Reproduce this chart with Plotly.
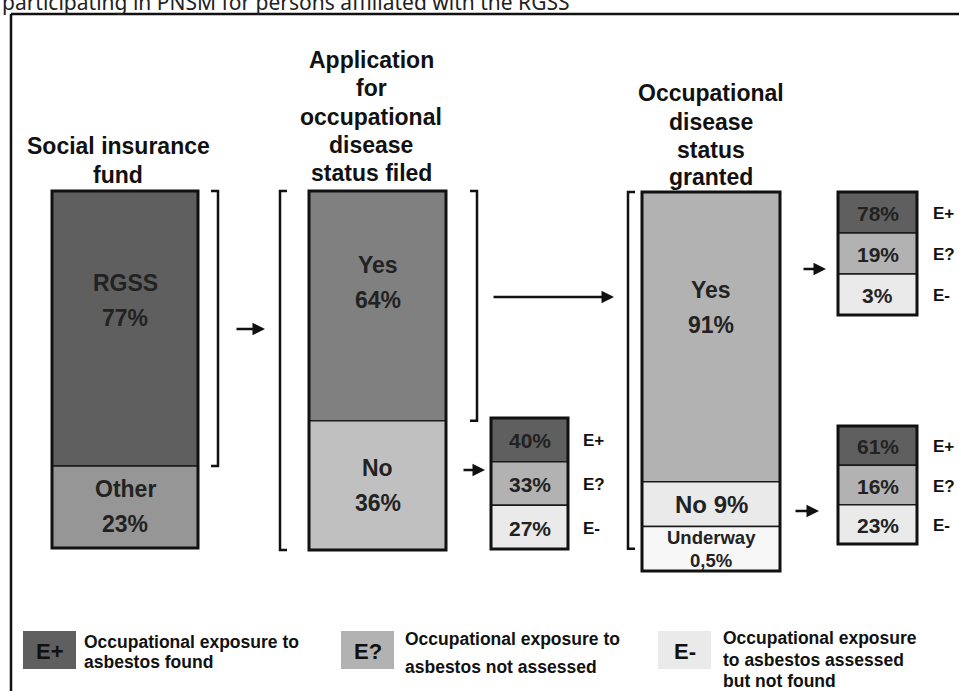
import plotly.graph_objects as go

# ---------------- data ----------------
page_caption = "participating in PNSM for persons affiliated with the RGSS"

column_titles = [
    ["Social insurance", "fund"],
    ["Application", "for", "occupational", "disease", "status filed"],
    ["Occupational", "disease", "status", "granted"],
]

fund_labels = ["RGSS", "Other"]
fund_values = [77, 23]

application_labels = ["Yes", "No"]
application_values = [64, 36]

granted_labels = ["Yes", "No", "Underway"]
granted_values = [91, 9, 0.5]

exposure_codes = ["E+", "E?", "E-"]
exposure_no_application = [40, 33, 27]
exposure_granted_yes = [78, 19, 3]
exposure_granted_no = [61, 16, 23]

exposure_descriptions = [
    ["Occupational exposure to", "asbestos found"],
    ["Occupational exposure to", "asbestos not assessed"],
    ["Occupational exposure", "to asbestos assessed", "but not found"],
]

# ---------------- style / layout ----------------
W, H = 959, 691
FONT = "Liberation Sans, Arial, sans-serif"
INK = "#111111"
LABEL_INK = "#222222"
EXPO_COLORS = ["#5f5f5f", "#b2b2b2", "#eaeaea"]
MIN_SHARE = 14  # minimum displayed share so that small segments stay legible


def pct(v):
    return (f"{v:g}").replace(".", ",") + "%"


columns = [
    dict(labels=fund_labels, values=fund_values, x0=52, x1=198, top=191, bottom=548,
         colors=["#5f5f5f", "#969696"], one_line=[False, False], sizes=[23, 23],
         gaps=[35, 35], title_x=118, title_y=[146, 175]),
    dict(labels=application_labels, values=application_values, x0=309, x1=446, top=191, bottom=550,
         colors=["#808080", "#c0c0c0"], one_line=[False, False], sizes=[23, 23],
         gaps=[35, 35], title_x=371, title_y=[60, 88, 117, 145, 173]),
    dict(labels=granted_labels, values=granted_values, x0=642, x1=780, top=192, bottom=571,
         colors=["#b2b2b2", "#eaeaea", "#f7f7f7"], one_line=[False, True, False],
         sizes=[23, 24, 18.5], gaps=[35, 0, 23], title_x=711, title_y=[93, 122, 150, 177]),
]

minis = [
    dict(values=exposure_no_application, x0=491, x1=568, top=418, bottom=549, code_x=581),
    dict(values=exposure_granted_yes, x0=838, x1=917, top=192, bottom=315, code_x=931),
    dict(values=exposure_granted_no, x0=838, x1=917, top=426, bottom=544, code_x=931),
]

fig = go.Figure()
annotations = []
shapes = []


def text(x, y, s, size, color=INK, xanchor="center", family=FONT, bold=True):
    annotations.append(dict(
        x=x, y=y, xref="x", yref="y", text=(f"<b>{s}</b>" if bold else s), showarrow=False,
        xanchor=xanchor, yanchor="middle",
        font=dict(family=family, size=size, color=color)))


# ---- main stacked columns ----
seg_bounds = []
for ci, col in enumerate(columns):
    disp = [max(v, MIN_SHARE) for v in col["values"]]
    tot = sum(disp)
    span = col["bottom"] - col["top"]
    heights = [d / tot * span for d in disp]
    bases = []
    acc = col["top"]
    for h in heights:
        bases.append(acc)
        acc += h
    seg_bounds.append(list(zip(bases, heights)))
    cx = (col["x0"] + col["x1"]) / 2
    w = col["x1"] - col["x0"]
    fig.add_trace(go.Bar(
        x=[cx] * len(heights), y=heights, base=bases, width=[w] * len(heights),
        marker=dict(color=col["colors"], line=dict(color="#1a1a1a", width=1.5)),
        hoverinfo="skip", showlegend=False))
    shapes.append(dict(type="rect", xref="x", yref="y", x0=col["x0"], x1=col["x1"],
                       y0=col["top"], y1=col["bottom"], line=dict(color="#111", width=3)))
    for lab, v, b, h, one, size, gap in zip(col["labels"], col["values"], bases, heights,
                                            col["one_line"], col["sizes"], col["gaps"]):
        yc = b + (0.4 * h if h > 150 else h / 2)
        if one:
            text(cx, yc, f"{lab} {pct(v)}", size, LABEL_INK)
        else:
            text(cx, yc - gap / 2, lab, size, LABEL_INK)
            text(cx, yc + gap / 2, pct(v), size, LABEL_INK)
    for line, ty in zip(column_titles[ci], col["title_y"]):
        text(col["title_x"], ty, line, 23, INK)

# ---- exposure mini tables ----
for m in minis:
    n = len(m["values"])
    rh = (m["bottom"] - m["top"]) / n
    bases = [m["top"] + i * rh for i in range(n)]
    cx = (m["x0"] + m["x1"]) / 2
    w = m["x1"] - m["x0"]
    fig.add_trace(go.Bar(
        x=[cx] * n, y=[rh] * n, base=bases, width=[w] * n,
        marker=dict(color=EXPO_COLORS, line=dict(color="#1a1a1a", width=1.5)),
        hoverinfo="skip", showlegend=False))
    shapes.append(dict(type="rect", xref="x", yref="y", x0=m["x0"], x1=m["x1"],
                       y0=m["top"], y1=m["bottom"], line=dict(color="#111", width=3)))
    for v, b, code in zip(m["values"], bases, exposure_codes):
        text(cx, b + rh / 2 + 1, pct(v), 21, LABEL_INK)
        text(m["code_x"], b + rh / 2 + 1, code, 17, INK, xanchor="left")


# ---- brackets ----
def bracket(x, y0, y1, side, serif=7):
    d = -serif if side == "right" else serif
    fig.add_trace(go.Scatter(
        x=[x + d, x, x, x + d], y=[y0, y0, y1, y1], mode="lines",
        line=dict(color="#111", width=2.5), hoverinfo="skip", showlegend=False))


b1 = seg_bounds[0][0]
bracket(218, b1[0], b1[0] + b1[1], "right")
bracket(280, columns[1]["top"], columns[1]["bottom"], "left")
b2 = seg_bounds[1][0]
bracket(477, b2[0], b2[0] + b2[1], "right")
b3u = seg_bounds[2][2]
bracket(628, columns[2]["top"], b3u[0] + b3u[1] / 2, "left")


# ---- arrows ----
def arrow(x0, x1, y):
    annotations.append(dict(x=x1, y=y, ax=x0, ay=y, xref="x", yref="y", axref="x", ayref="y",
                            text="", showarrow=True, arrowhead=2, arrowsize=1,
                            arrowwidth=2.5, arrowcolor="#111", standoff=0))


arrow(235, 265, 329)
arrow(492, 614, 297)
arrow(462, 485, 470)
arrow(802, 826, 269)
arrow(794, 819, 511)

# ---- legend ----
legend_boxes = [
    dict(x0=23, x1=76, text_x=82, text_y=[642, 662]),
    dict(x0=341, x1=394, text_x=403, text_y=[639, 667]),
    dict(x0=658, x1=711, text_x=721, text_y=[638, 660, 681]),
]
for lb, code, col, desc in zip(legend_boxes, exposure_codes, EXPO_COLORS, exposure_descriptions):
    shapes.append(dict(type="rect", xref="x", yref="y", x0=lb["x0"], x1=lb["x1"], y0=631, y1=669,
                       line=dict(width=0), fillcolor=col, layer="below"))
    text((lb["x0"] + lb["x1"]) / 2, 651, code, 22, INK)
    for line, ty in zip(desc, lb["text_y"]):
        text(lb["text_x"], ty, line, 17.5, INK, xanchor="left")

# ---- frame and caption ----
shapes.append(dict(type="line", xref="x", yref="y", x0=11, x1=11, y0=14, y1=H + 5,
                   line=dict(color="#111", width=2.5)))
shapes.append(dict(type="line", xref="x", yref="y", x0=11, x1=W + 5, y0=14, y1=14,
                   line=dict(color="#111", width=2.5)))
text(0, 2, page_caption, 21, "#222", xanchor="left", family="Noto Sans, Open Sans, sans-serif", bold=False)

fig.update_layout(
    width=W, height=H, margin=dict(l=0, r=0, t=0, b=0),
    paper_bgcolor="white", plot_bgcolor="white",
    barmode="overlay", showlegend=False,
    xaxis=dict(range=[0, W], visible=False, fixedrange=True),
    yaxis=dict(range=[H, 0], visible=False, fixedrange=True),
    annotations=annotations, shapes=shapes,
)

fig.write_html("out.html", config={"displayModeBar": False},
               post_script="document.body.style.margin='0px';document.body.style.overflow='hidden';")
